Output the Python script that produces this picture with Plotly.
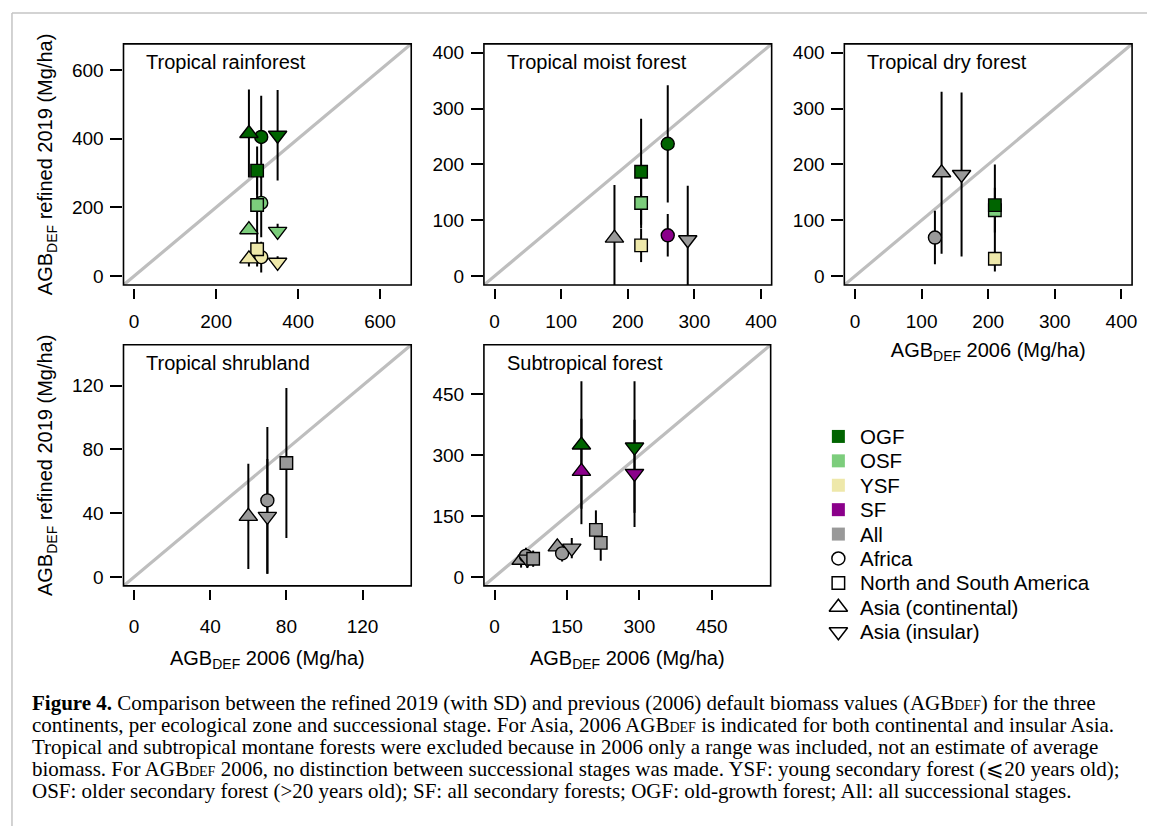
import plotly.graph_objects as go

# page is photographed at 1155x828; the page body has an 8px margin
PAGE_W, PAGE_H = 1155, 828
OFF = 8
W, H = PAGE_W - OFF, PAGE_H - OFF

# ---------------- data ----------------
stage_names = ["OGF", "OSF", "YSF", "SF", "All"]
stage_colors = ["#006400", "#7CCD7C", "#EEE8AA", "#8B008B", "#999999"]
region_names = ["Africa", "North and South America", "Asia (continental)", "Asia (insular)"]
region_symbols = ["circle", "square", "triangle-up", "triangle-down"]

# Tropical rainforest
rain_region = ["Africa", "Africa", "Africa",
               "North and South America", "North and South America", "North and South America",
               "Asia (continental)", "Asia (continental)", "Asia (continental)",
               "Asia (insular)", "Asia (insular)", "Asia (insular)"]
rain_stage = ["OGF", "OSF", "YSF", "OGF", "OSF", "YSF", "OGF", "OSF", "YSF", "OGF", "OSF", "YSF"]
rain_x2006 = [310, 310, 310, 300, 300, 300, 280, 280, 280, 350, 350, 350]
rain_y2019 = [405, 213, 55, 307, 207, 78, 415, 135, 50, 410, 130, 40]
rain_sd = [120, 100, 45, 70, 80, 50, 128, 12, 22, 132, 22, 18]

# Tropical moist forest
moist_region = ["Asia (continental)", "North and South America", "North and South America",
                "North and South America", "Africa", "Africa", "Asia (insular)"]
moist_stage = ["All", "OGF", "OSF", "YSF", "OGF", "SF", "All"]
moist_x2006 = [180, 220, 220, 220, 260, 260, 290]
moist_y2019 = [68, 187, 131, 55, 237, 73, 65]
moist_sd = [95, 95, 45, 30, 105, 38, 97]

# Tropical dry forest
dry_region = ["Africa", "Asia (continental)", "Asia (insular)",
              "North and South America", "North and South America", "North and South America"]
dry_stage = ["All", "All", "All", "OSF", "OGF", "YSF"]
dry_x2006 = [120, 130, 160, 210, 210, 210]
dry_y2019 = [69, 185, 182, 118, 127, 31]
dry_sd = [48, 145, 147, 40, 73, 23]

# Tropical shrubland
shrub_region = ["Asia (continental)", "Africa", "Asia (insular)", "North and South America"]
shrub_stage = ["All", "All", "All", "All"]
shrub_x2006 = [60, 70, 70, 80]
shrub_y2019 = [38, 48, 38, 71.5]
shrub_sd = [33, 46, 36, 47]

# Subtropical forest
sub_region = ["Asia (continental)", "Asia (insular)", "Asia (continental)", "Asia (insular)",
              "Asia (continental)", "Africa", "Asia (insular)", "North and South America",
              "Asia (continental)", "Africa", "Asia (insular)",
              "North and South America", "North and South America"]
sub_stage = ["OGF", "OGF", "SF", "SF", "All", "All", "All", "All", "All", "All", "All", "All", "All"]
sub_x2006 = [180, 290, 180, 290, 55, 65, 68, 80, 130, 140, 160, 210, 220]
sub_y2019 = [325, 320, 260, 255, 41, 52, 44, 45, 74, 58, 71, 116, 84]
sub_sd = [157, 162, 130, 132, 18, 20, 22, 20, 18, 20, 25, 48, 44]

# tick values per panel
rain_ticks = [0, 200, 400, 600]
moist_ticks = [0, 100, 200, 300, 400]
dry_ticks = [0, 100, 200, 300, 400]
shrub_ticks = [0, 40, 80, 120]
sub_ticks = [0, 150, 300, 450]

panel_titles = ["Tropical rainforest", "Tropical moist forest", "Tropical dry forest",
                "Tropical shrubland", "Subtropical forest"]

legend_labels = stage_names + region_names

# ---------------- layout helpers (page pixels -> paper) ----------------
def fx(p):
    return (p - OFF) / W

def fy(p):
    return 1 - (p - OFF) / H

FONT = "Liberation Sans, Arial, sans-serif"
SERIF = "Liberation Serif, Times New Roman, serif"

panels = [
    dict(data=(rain_region, rain_stage, rain_x2006, rain_y2019, rain_sd), ticks=rain_ticks,
         lim=(0, 650), box=(124, 413, 43, 285), row=1),
    dict(data=(moist_region, moist_stage, moist_x2006, moist_y2019, moist_sd), ticks=moist_ticks,
         lim=(0, 400), box=(486, 775, 43, 285), row=1),
    dict(data=(dry_region, dry_stage, dry_x2006, dry_y2019, dry_sd), ticks=dry_ticks,
         lim=(0, 400), box=(848, 1137, 43, 285), row=1),
    dict(data=(shrub_region, shrub_stage, shrub_x2006, shrub_y2019, shrub_sd), ticks=shrub_ticks,
         lim=(0, 140), box=(124, 413, 345, 587), row=2),
    dict(data=(sub_region, sub_stage, sub_x2006, sub_y2019, sub_sd), ticks=sub_ticks,
         lim=(0, 550), box=(486, 774, 345, 587), row=2),
]

sym_of = dict(zip(region_names, region_symbols))
col_of = dict(zip(stage_names, stage_colors))
size_of = {"circle": 13, "square": 12.5, "triangle-up": 16, "triangle-down": 16}

fig = go.Figure()
layout = dict(width=W, height=H, margin=dict(l=0, r=0, t=0, b=0),
              paper_bgcolor="white", plot_bgcolor="white",
              font=dict(family=FONT, size=19, color="black"),
              showlegend=False)
shapes = []
annotations = []

xtitle = "AGB<sub>DEF</sub> 2006 (Mg/ha)"
ytitle = "AGB<sub>DEF</sub> refined 2019 (Mg/ha)"

for i, p in enumerate(panels):
    k = "" if i == 0 else str(i + 1)
    xa, ya = "x" + k, "y" + k
    lo, hi = p["lim"]
    pad = 0.04 * (hi - lo)
    rng = [lo - pad, hi + pad]
    bx0, bx1, by0, by1 = p["box"]
    region, stage, xv, yv, sd = p["data"]

    # 1:1 line across the axis range
    fig.add_trace(go.Scatter(x=rng, y=rng, mode="lines", xaxis=xa, yaxis=ya,
                             line=dict(color="#BEBEBE", width=3.2), hoverinfo="skip"))
    syms = [sym_of[r] for r in region]
    fig.add_trace(go.Scatter(
        x=xv, y=yv, mode="markers", xaxis=xa, yaxis=ya,
        marker=dict(symbol=syms, color=[col_of[s] for s in stage],
                    size=[size_of[s] for s in syms], opacity=1,
                    line=dict(color="black", width=1.4)),
        error_y=dict(type="data", array=sd, symmetric=True, color="black",
                     thickness=2, width=0)))

    show_xt = i in (2, 3, 4)
    show_yt = i in (0, 3)
    lab_off = 6 if p["row"] == 1 else 10
    ttl_off = 12 if p["row"] == 1 else 15
    layout["xaxis" + k] = dict(
        domain=[fx(bx0), fx(bx1)], range=rng, anchor="free", position=fy(by1 + 3),
        tickmode="array", tickvals=p["ticks"], ticks="outside", ticklen=10, tickwidth=1.5,
        tickcolor="black", showgrid=False, zeroline=False, showline=False,
        tickfont=dict(size=19), ticklabelstandoff=lab_off,
        title=dict(text=xtitle if show_xt else "", font=dict(size=20), standoff=ttl_off))
    layout["yaxis" + k] = dict(
        domain=[fy(by1), fy(by0)], range=rng, anchor=xa,
        tickmode="array", tickvals=p["ticks"], ticks="outside", ticklen=12, tickwidth=1.5,
        tickcolor="black", showgrid=False, zeroline=False, showline=False,
        tickfont=dict(size=19), ticklabelstandoff=3,
        title=dict(text=ytitle if show_yt else "", font=dict(size=20), standoff=13))
    shapes.append(dict(type="rect", xref=xa + " domain", yref=ya + " domain",
                       x0=0, x1=1, y0=0, y1=1, line=dict(color="black", width=1.6)))
    annotations.append(dict(text=panel_titles[i], xref="paper", yref="paper",
                            x=fx(bx0 + 21), y=fy(by0 + 18), xanchor="left", yanchor="middle",
                            showarrow=False, font=dict(size=20)))

# ---------------- legend (own hidden axes; entry i sits at row i) ----------------
LEG_X0, LEG_X1, LEG_Y0, LEG_Y1 = 830, 1150, 425, 645
ROW0, ROWSTEP = 437, 24.5
n_leg = len(legend_labels)
layout["xaxis6"] = dict(domain=[fx(LEG_X0), fx(LEG_X1)], range=[0, LEG_X1 - LEG_X0],
                        anchor="y6", visible=False, fixedrange=True)
layout["yaxis6"] = dict(domain=[fy(LEG_Y1), fy(LEG_Y0)],
                        range=[(LEG_Y1 - ROW0) / ROWSTEP, -(ROW0 - LEG_Y0) / ROWSTEP],
                        anchor="x6", visible=False, fixedrange=True)
rows = list(range(n_leg))
key_x = 842 - LEG_X0
text_x = 862 - LEG_X0
leg_syms = ["square"] * len(stage_names) + [s + "-open" for s in region_symbols]
leg_cols = stage_colors + ["black"] * len(region_names)
leg_sizes = [13] * len(stage_names) + [size_of[s] for s in region_symbols]
leg_lw = [0] * len(stage_names) + [1.5] * len(region_names)
fig.add_trace(go.Scatter(x=[key_x] * n_leg, y=rows, mode="markers", xaxis="x6", yaxis="y6",
                         marker=dict(symbol=leg_syms, color=leg_cols, size=leg_sizes, opacity=1,
                                     line=dict(width=leg_lw, color=leg_cols)),
                         hoverinfo="skip", cliponaxis=False))
for r, lab in zip(rows, legend_labels):
    annotations.append(dict(text=lab, xref="x6", yref="y6", x=text_x, y=r,
                            xanchor="left", yanchor="middle", showarrow=False,
                            font=dict(size=20.5)))

# grey page frame
shapes.append(dict(type="line", xref="paper", yref="paper", x0=fx(12), x1=1, y0=fy(12), y1=fy(12),
                   line=dict(color="#C4C4C4", width=1.5)))
shapes.append(dict(type="line", xref="paper", yref="paper", x0=fx(12), x1=fx(12), y0=fy(12), y1=0,
                   line=dict(color="#C4C4C4", width=1.5)))

SUB = '<span style="font-size:14px">DEF</span>'
caption = [
    "<b>Figure 4.</b> Comparison between the refined 2019 (with SD) and previous (2006) default biomass values (AGB" + SUB + ") for the three",
    "continents, per ecological zone and successional stage. For Asia, 2006 AGB" + SUB + " is indicated for both continental and insular Asia.",
    "Tropical and subtropical montane forests were excluded because in 2006 only a range was included, not an estimate of average",
    "biomass. For AGB" + SUB + " 2006, no distinction between successional stages was made. YSF: young secondary forest (⩽20 years old);",
    "OSF: older secondary forest (>20 years old); SF: all secondary forests; OGF: old-growth forest; All: all successional stages.",
]
caption_y = [705, 727, 749, 771, 793]
for line, yy in zip(caption, caption_y):
    annotations.append(dict(text=line, xref="paper", yref="paper", x=fx(30), y=fy(yy),
                            xanchor="left", yanchor="middle", showarrow=False,
                            font=dict(family=SERIF, size=21, color="black")))

layout["shapes"] = shapes
layout["annotations"] = annotations
fig.update_layout(**layout)
fig.write_html("out.html")
